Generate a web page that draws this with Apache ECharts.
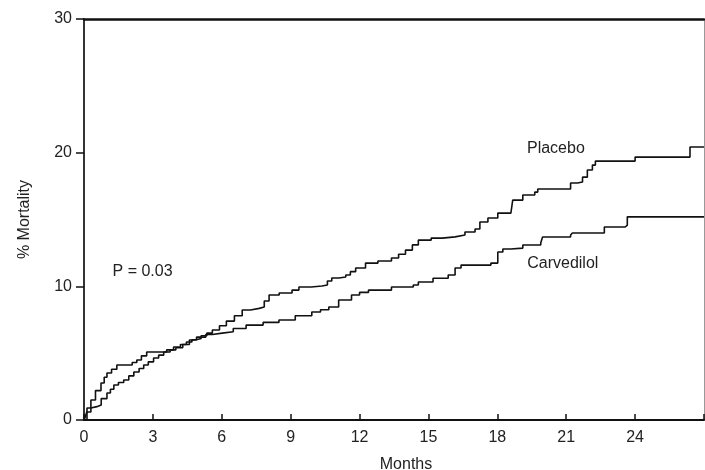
<!DOCTYPE html>
<html><head><meta charset="utf-8">
<script src="https://cdn.jsdelivr.net/npm/echarts@6/dist/echarts.min.js"></script>
<style>html,body{margin:0;padding:0;background:#fff}#c{width:705px;height:470px}</style>
</head><body><div id="c"></div>
<script>
// Kaplan-Meier style cumulative mortality (%), [month, value]
const placebo = [
  [0,0],[0.13,0.9],[0.3,1.0],[0.56,1.12],[0.75,1.6],[1.0,2.02],[1.15,2.3],[1.3,2.62],[1.5,2.8],
  [1.73,2.99],[1.95,3.3],[2.17,3.59],[2.4,3.85],[2.6,4.11],[2.8,4.35],[3.03,4.64],[3.25,4.85],
  [3.47,5.09],[3.75,5.25],[4.0,5.4],[4.3,5.65],[4.59,5.98],[4.85,6.1],[5.1,6.3],[5.35,6.5],
  [5.59,6.73],[5.9,7.05],[6.2,7.4],[6.55,7.8],[6.89,8.23],[7.25,8.35],[7.63,8.45],[7.85,8.9],
  [8.06,9.35],[8.5,9.5],[9.06,9.72],[9.36,9.95],[9.9,10.02],[10.36,10.1],[10.6,10.4],
  [10.79,10.62],[11.1,10.7],[11.4,10.85],[11.6,11.1],[11.83,11.37],[12.26,11.74],[12.8,11.9],
  [13.39,12.12],[13.7,12.4],[14.0,12.71],[14.3,13.1],[14.56,13.46],[15.12,13.61],[15.6,13.7],
  [16.16,13.84],[16.59,14.06],[17.03,14.29],[17.24,14.81],[17.59,15.11],[18.02,15.48],
  [18.59,15.56],[18.67,16.45],[19.11,16.83],[19.63,17.05],[19.76,17.28],[21.06,17.28],
  [21.19,17.73],[21.49,17.8],[21.71,18.17],[21.92,18.7],[22.14,19.07],[22.27,19.37],
  [24.0,19.67],[26.39,20.42],[27,20.42]
];
const carvedilol = [
  [0,0],[0.04,0.15],[0.12,0.6],[0.3,1.5],[0.5,2.2],[0.74,2.77],[0.88,3.2],[1.0,3.52],
  [1.2,3.8],[1.43,4.11],[1.86,4.11],[2.1,4.3],[2.3,4.49],[2.5,4.8],[2.73,5.09],[3.34,5.09],
  [3.6,5.25],[3.9,5.46],[4.2,5.65],[4.46,5.83],[4.7,6.0],[4.9,6.2],[5.3,6.4],[5.59,6.5],
  [6.02,6.6],[6.5,6.85],[7.06,7.1],[7.8,7.3],[8.49,7.48],[9.2,7.8],[9.92,8.08],[10.3,8.25],
  [10.66,8.45],[11.09,8.98],[11.65,9.35],[12.0,9.55],[12.39,9.72],[13.39,9.95],[14.34,10.1],
  [14.56,10.32],[15.2,10.6],[15.86,10.85],[16.16,11.37],[16.42,11.59],[17.72,11.74],
  [18.02,12.57],[18.24,12.79],[18.59,12.86],[19.11,13.09],[19.89,13.24],[19.97,13.69],
  [21.19,13.84],[21.27,13.99],[22.49,13.99],[22.66,14.44],[23.57,14.58],[23.66,15.2],[27,15.2]
];
const xTicks = [0,3,6,9,12,15,18,21,24];
const yTicks = [0,10,20,30];
const labels = [
  {text:'Placebo', at:[20.55,20.3]},
  {text:'Carvedilol', at:[20.85,11.7]},
  {text:'P = 0.03', at:[2.55,11.1]}
];
const FONT = '"Liberation Sans", Arial, sans-serif';
const chart = echarts.init(document.getElementById('c'));
const lineStyle = {color:'#111', width:1.6};
chart.setOption({
  animation:false,
  grid:{left:84, right:1, top:19, bottom:50, containLabel:false, outerBoundsMode:'none'},
  xAxis:[{
    type:'value', min:0, max:27, interval:3,
    name:'Months', nameLocation:'middle', nameGap:37,
    nameTextStyle:{fontFamily:FONT, fontSize:16, color:'#222', padding:[0,0,0,24]},
    axisLine:{show:true, onZero:false, lineStyle:{color:'#111', width:2}},
    axisTick:{show:true, inside:true, length:6, lineStyle:{color:'#111', width:1.5}},
    axisLabel:{margin:10, fontFamily:FONT, fontSize:16, color:'#222',
      formatter:v => xTicks.indexOf(v) >= 0 ? String(v) : ''},
    splitLine:{show:false}
  },{
    type:'value', position:'top', min:0, max:27,
    axisLine:{show:true, onZero:false, lineStyle:{color:'#111', width:2.5}},
    axisTick:{show:false}, axisLabel:{show:false}, splitLine:{show:false}
  }],
  yAxis:[{
    type:'value', min:0, max:30, interval:10,
    name:'% Mortality', nameLocation:'middle', nameGap:51,
    nameTextStyle:{fontFamily:FONT, fontSize:16, color:'#222'},
    axisLine:{show:true, onZero:false, lineStyle:{color:'#333', width:2}},
    axisTick:{show:true, length:8, lineStyle:{color:'#111', width:1.5}},
    axisLabel:{margin:12, fontFamily:FONT, fontSize:16, color:'#222',
      formatter:v => yTicks.indexOf(v) >= 0 ? String(v) : ''},
    splitLine:{show:false}
  },{
    type:'value', position:'right', min:0, max:30,
    axisLine:{show:true, onZero:false, lineStyle:{color:'#999', width:1}},
    axisTick:{show:false}, axisLabel:{show:false}, splitLine:{show:false}
  }],
  series:[
    {name:'Placebo', type:'line', step:'end', data:placebo, showSymbol:false, lineStyle},
    {name:'Carvedilol', type:'line', step:'end', data:carvedilol, showSymbol:false, lineStyle}
  ]
});
chart.setOption({
  graphic: labels.map(l => {
    const p = chart.convertToPixel({xAxisIndex:0, yAxisIndex:0}, l.at);
    return {type:'text', x:p[0], y:p[1],
      style:{text:l.text, fill:'#222', font:'16px ' + FONT, align:'center', verticalAlign:'middle'}};
  })
});
</script></body></html>
